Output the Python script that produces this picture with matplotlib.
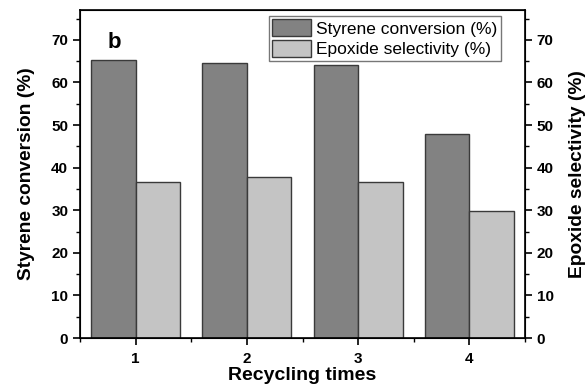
import numpy as np
import matplotlib
matplotlib.use("Agg")
import matplotlib.pyplot as plt
from matplotlib.ticker import MultipleLocator

plt.rcParams['font.family'] = ['Liberation Sans', 'DejaVu Sans']

# data
cycles = [1, 2, 3, 4]
conversion = [65.2, 64.5, 64.1, 47.8]
selectivity = [36.7, 37.7, 36.6, 29.9]

fig = plt.figure(figsize=(5.87, 3.89), dpi=100)
ax = fig.add_axes([80/587, 1 - 338/389, 445/587, 328/389])

x = np.array(cycles)
w = 0.4
ax.bar(x - w/2, conversion, w, color='#828282', edgecolor='#3a3a3a', linewidth=1, label='Styrene conversion (%)')
ax.bar(x + w/2, selectivity, w, color='#c4c4c4', edgecolor='#3a3a3a', linewidth=1, label='Epoxide selectivity (%)')

ax.set_xlim(0.5, 4.5)
ax.set_ylim(0, 77)
ax.set_xticks(cycles)
ax.xaxis.set_minor_locator(MultipleLocator(0.5))
ax.yaxis.set_major_locator(MultipleLocator(10))
ax.yaxis.set_minor_locator(MultipleLocator(5))
ax.tick_params(axis='both', which='major', direction='out', length=5, width=1.2, labelsize=11)
ax.tick_params(axis='both', which='minor', direction='out', length=3, width=1)
ax.tick_params(axis='x', which='major', pad=5)
for lab in ax.get_xticklabels() + ax.get_yticklabels():
    lab.set_fontweight('bold')
for s in ax.spines.values():
    s.set_linewidth(1.2)

ax.set_xlabel('Recycling times', fontsize=14, fontweight='bold', labelpad=1)
ax.set_ylabel('Styrene conversion (%)', fontsize=13.8, fontweight='bold', labelpad=12)

# right axis, same scale
ax2 = ax.twinx()
ax2.set_ylim(0, 77)
ax2.yaxis.set_major_locator(MultipleLocator(10))
ax2.yaxis.set_minor_locator(MultipleLocator(5))
ax2.tick_params(axis='y', which='major', direction='out', length=5, width=1.2, labelsize=11)
ax2.tick_params(axis='y', which='minor', direction='out', length=3, width=1)
for lab in ax2.get_yticklabels():
    lab.set_fontweight('bold')
ax2.set_ylabel('Epoxide selectivity (%)', fontsize=13.8, fontweight='bold', labelpad=11)

ax.text(0.063, 0.885, 'b', transform=ax.transAxes, fontsize=16, fontweight='bold')

leg = ax.legend(loc='upper right', bbox_to_anchor=(0.946, 0.982), fontsize=12.5, frameon=True,
                fancybox=False, edgecolor='#555555', handlelength=2.2, handleheight=1.1,
                handletextpad=0.33, borderpad=0.2, labelspacing=0.2, borderaxespad=0)
leg.get_frame().set_linewidth(1)

fig.savefig('out.png', dpi=100)
